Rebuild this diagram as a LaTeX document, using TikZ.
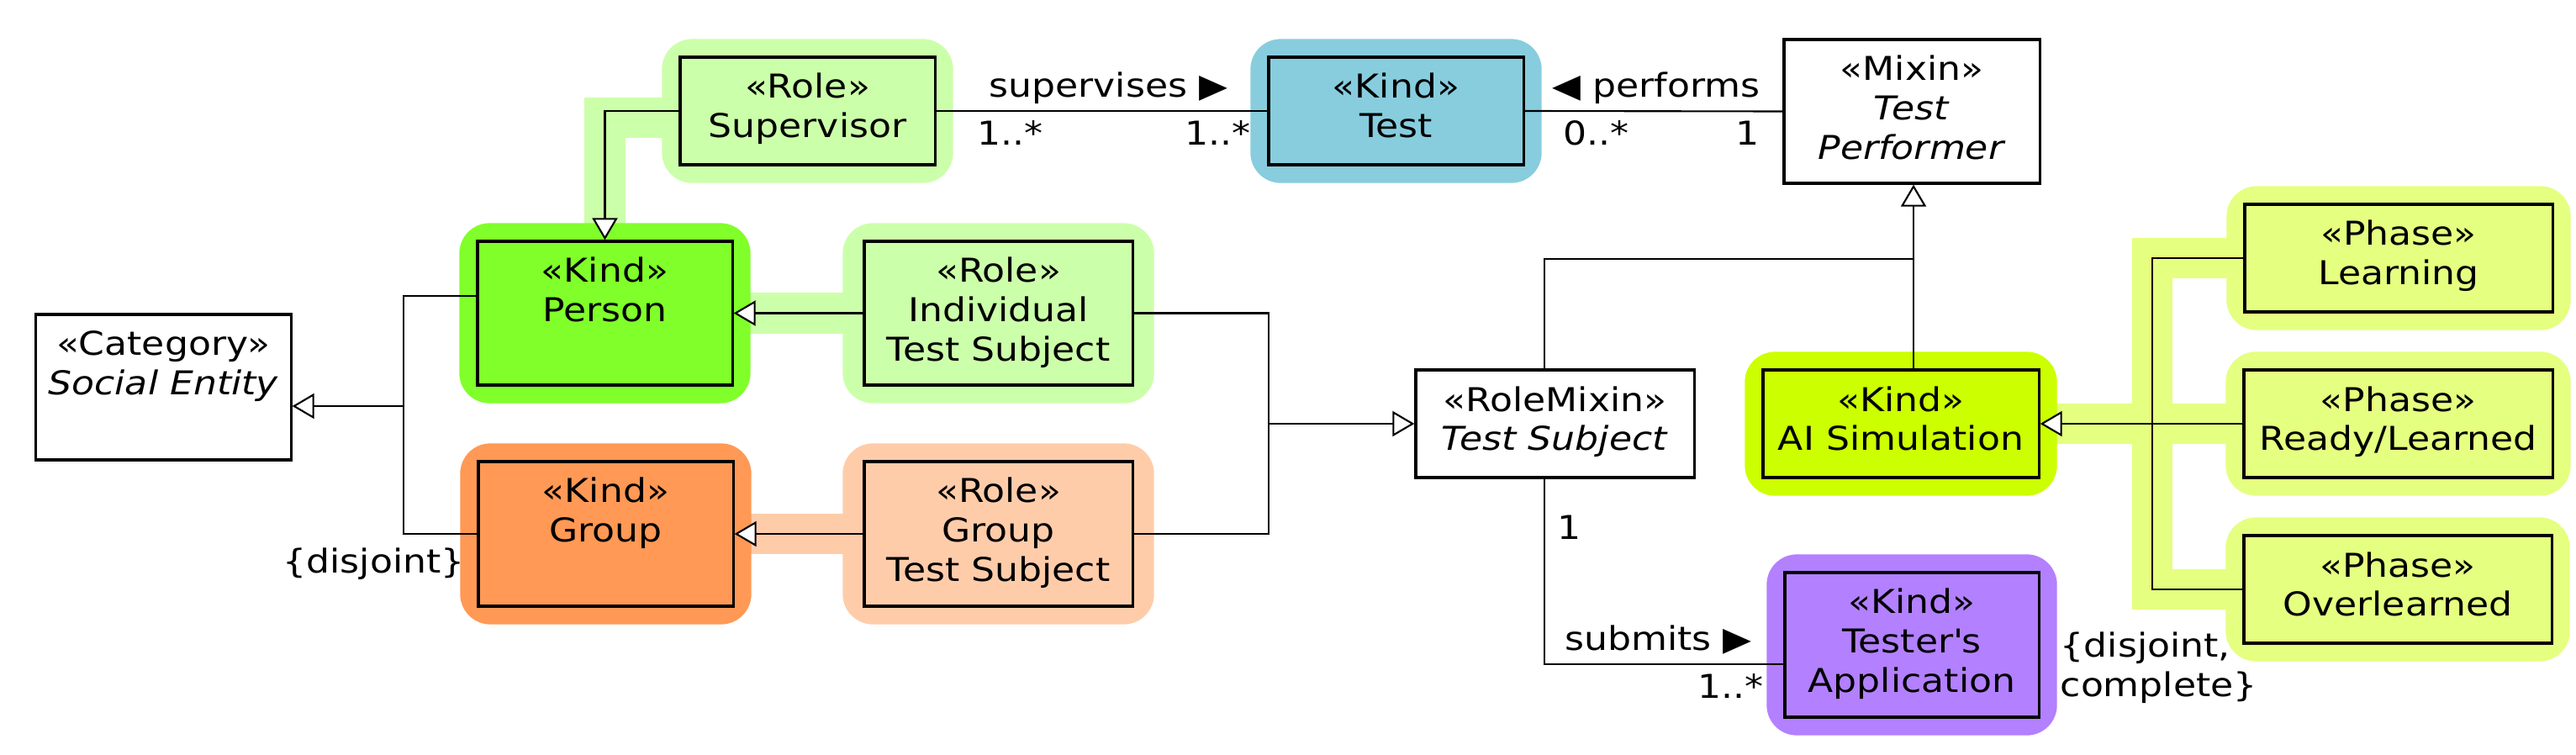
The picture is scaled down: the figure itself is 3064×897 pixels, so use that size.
\documentclass[tikz,border=0pt]{standalone}
\usepackage{fontspec}
\setmainfont{DejaVu Sans}[FakeStretch=1.13]
\usetikzlibrary{positioning,arrows.meta,calc,fit,backgrounds}

\definecolor{rolegreen}{HTML}{CCFFAA}
\definecolor{kindgreen}{HTML}{80FF2A}
\definecolor{testblue}{HTML}{87CDDE}
\definecolor{kindorange}{HTML}{FF9955}
\definecolor{rolepeach}{HTML}{FFCCAA}
\definecolor{kindlime}{HTML}{CCFF00}
\definecolor{phaseyellow}{HTML}{E5FF80}
\definecolor{kindpurple}{HTML}{B380FF}

\newcommand{\ctext}[3]{\parbox[c][#2][t]{#1}{\centering\rule{0pt}{0.49cm}#3}}

\begin{document}
\begin{tikzpicture}[x=0.01cm, y=-0.01cm,
	font=\fontsize{11.1}{13.3}\selectfont,
	cls/.style={draw, line width=0.9pt, inner sep=0pt, fill=#1},
	cls/.default=white,
	halo/.style={fill=#1, rounded corners=0.36cm, inner sep=0.2cm},
	band/.style={draw=#1, line width=0.48cm},
	conn/.style={draw, line width=0.6pt},
	gen/.style={conn, -{Triangle[fill=white,length=0.26cm,width=0.3cm]}},
	lab/.style={inner sep=0pt, text height=8.3pt, text depth=2.8pt}]
	\useasboundingbox (0,0) rectangle (3064,897);

	\node[cls] (cat) at (194.5,460.5) 
		{\ctext{3.03cm}{1.73cm}{«Category»\\\textit{Social Entity}}};
	\node[cls=rolegreen] (sup) at (960.5,132) 
		{\ctext{3.03cm}{1.28cm}{«Role»\\Supervisor}};
	\node[cls=testblue] (test) at (1660.5,132) 
		{\ctext{3.03cm}{1.28cm}{«Kind»\\Test}};
	\node[cls] (mixin) at (2274,132.5) 
		{\ctext{3.04cm}{1.71cm}{«Mixin»\\\textit{Test}\\\textit{Performer}}};
	\node[cls=kindgreen] (person) at (719.5,372.5) 
		{\ctext{3.03cm}{1.71cm}{«Kind»\\Person}};
	\node[cls=rolegreen] (its) at (1187.5,372.5) 
		{\ctext{3.19cm}{1.71cm}{«Role»\\Individual\\Test Subject}};
	\node[cls=kindorange] (group) at (720.5,635) 
		{\ctext{3.03cm}{1.72cm}{«Kind»\\Group}};
	\node[cls=rolepeach] (gts) at (1187.5,635) 
		{\ctext{3.19cm}{1.72cm}{«Role»\\Group\\Test Subject}};
	\node[cls] (rolemix) at (1849.5,504) 
		{\ctext{3.31cm}{1.28cm}{«RoleMixin»\\\textit{Test Subject}}};
	\node[cls=kindlime] (aisim) at (2261,504) 
		{\ctext{3.28cm}{1.28cm}{«Kind»\\AI Simulation}};
	\node[cls=kindpurple] (tester) at (2274,767) 
		{\ctext{3.02cm}{1.72cm}{«Kind»\\Tester\textquotesingle s\\Application}};
	\node[cls=phaseyellow] (learning) at (2853,307) 
		{\ctext{3.66cm}{1.28cm}{«Phase»\\Learning}};
	\node[cls=phaseyellow] (ready) at (2852.5,504) 
		{\ctext{3.67cm}{1.28cm}{«Phase»\\Ready/Learned}};
	\node[cls=phaseyellow] (over) at (2852,701) 
		{\ctext{3.66cm}{1.28cm}{«Phase»\\Overlearned}};

	\coordinate (catbus) at (480,483);
	\coordinate (tsbus) at (1509,504);
	\coordinate (perfbus) at (2276,308);
	\coordinate (phbus) at (2560,504);

	% highlights behind the classes
	\begin{scope}[on background layer]
		\draw[band=rolegreen] ([yshift=-0.08cm]sup.west) -| (person.north);
		\draw[band=rolegreen] (its.west) -- (person.east);
		\draw[band=rolepeach] (gts.west) -- (group.east);
		\draw[band=phaseyellow] (learning.west) -| (phbus);
		\draw[band=phaseyellow] (over.west) -| (phbus);
		\draw[band=phaseyellow] (ready.west) -- (aisim.east);
		\node[halo=rolegreen, fit=(sup)] (supH) {};
		\node[halo=testblue, fit=(test)] (testH) {};
		\node[halo=kindgreen, fit=(person)] (personH) {};
		\node[halo=rolegreen, fit=(its), inner xsep=0.24cm] (itsH) {};
		\node[halo=kindorange, fit=(group)] (groupH) {};
		\node[halo=rolepeach, fit=(gts), inner xsep=0.24cm] (gtsH) {};
		\node[halo=kindlime, fit=(aisim)] (aisimH) {};
		\node[halo=kindpurple, fit=(tester)] (testerH) {};
		\node[halo=phaseyellow, fit=(learning)] (learningH) {};
		\node[halo=phaseyellow, fit=(ready)] (readyH) {};
		\node[halo=phaseyellow, fit=(over)] (overH) {};
	\end{scope}

	% generalizations
	\draw[gen] (sup.west) -| (person.north);
	\draw[gen] (its.west) -- (person.east);
	\draw[gen] (gts.west) -- (group.east);
	\draw[conn] ([yshift=0.205cm]person.west) -| (catbus);
	\draw[conn] (group.west) -| (catbus);
	\draw[gen] (catbus) -- (cat.east |- catbus);
	\draw[conn] (its.east) -| (tsbus);
	\draw[conn] (gts.east) -| (tsbus);
	\draw[gen] (tsbus) -- (rolemix.west);
	\draw[conn] ([xshift=-0.125cm]rolemix.north) |- (perfbus);
	\draw[gen] (perfbus |- aisim.north) -- (perfbus |- mixin.south);
	\draw[conn] (learning.west) -| (phbus);
	\draw[conn] (over.west) -| (phbus);
	\draw[gen] (ready.west) -- (aisim.east);
	\node[lab, anchor=east] (disjA) at ([xshift=-0.14cm,yshift=-0.37cm]group.west) 
		{\{disjoint\}};
	\node[inner sep=0pt, align=left, anchor=north west] (disjB) at (2450,751) 
		{\{disjoint,\\complete\}};

	% associations
	\draw[conn] (sup.east) -- 
		node[lab, above=1.7pt, pos=0.52] (supL) {supervises ▶}
		node[lab, below=2.8pt, pos=0.224] (supM1) {1..*}
		node[lab, below=2.8pt, pos=0.851] (supM2) {1..*} (test.west);
	\draw[conn] (test.east) -- 
		node[lab, above=1.7pt, pos=0.51] (perfL) {◀ performs}
		node[lab, below=2.8pt, pos=0.277] (perfM1) {0..*}
		node[lab, below=2.8pt, pos=0.865] (perfM2) {1} (mixin.west);
	\draw[conn] ([xshift=-0.125cm]rolemix.south) |- 
		node[lab, right=4pt, pos=0.14] (subM1) {1}
		node[lab, above=1.7pt, pos=0.738] (subL) {submits ▶}
		node[lab, below=2.8pt, pos=0.89] (subM2) {1..*} ([yshift=-0.23cm]tester.west);
\end{tikzpicture}
\end{document}
